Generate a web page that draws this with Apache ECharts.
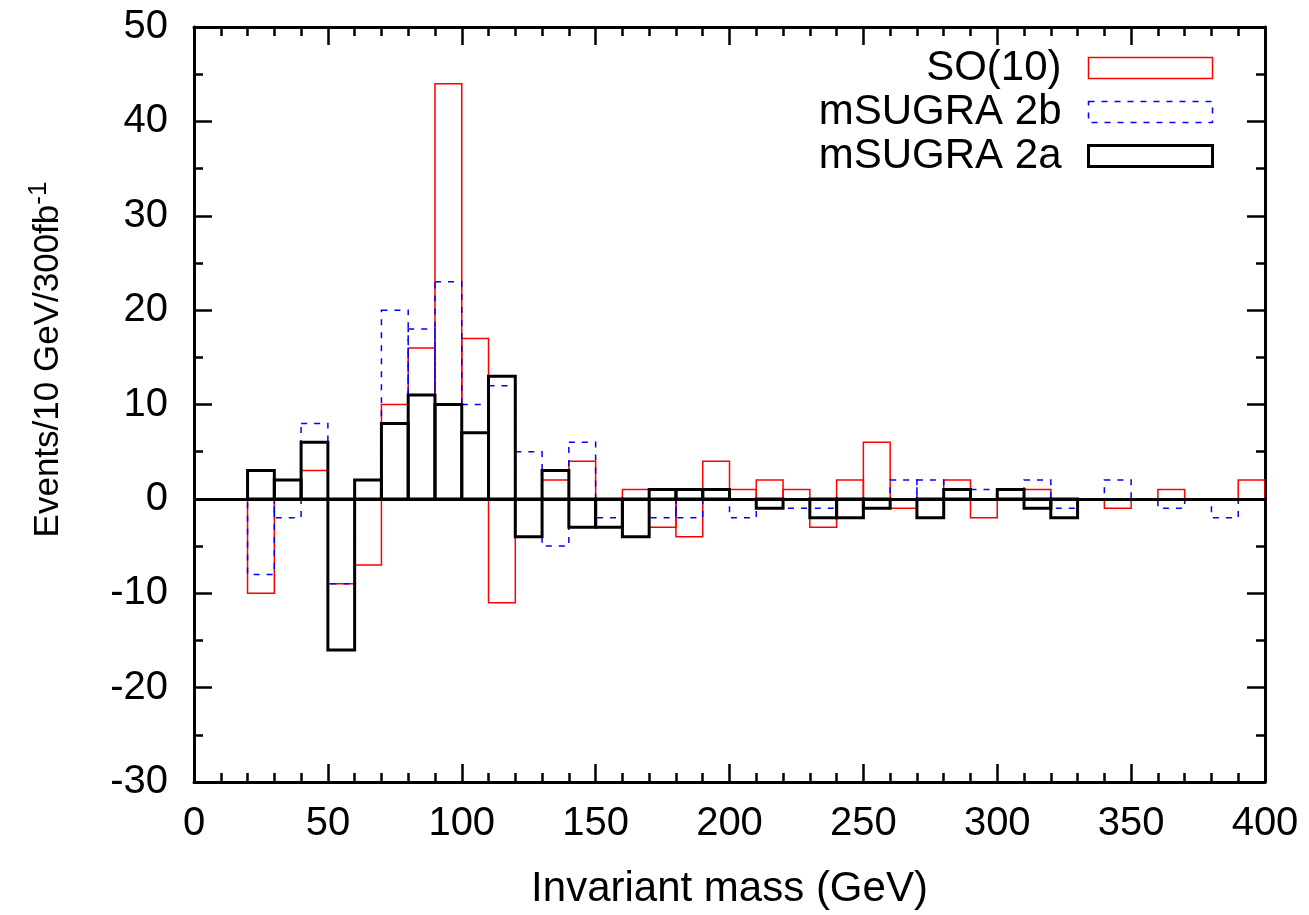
<!DOCTYPE html>
<html>
<head>
<meta charset="utf-8">
<script src="https://cdn.jsdelivr.net/npm/echarts@6/dist/echarts.min.js"></script>
<style>
html,body{margin:0;padding:0;background:#fff;}
#chart{width:1309px;height:915px;}
</style>
</head>
<body>
<div id="chart"></div>
<script>
// Lower edges of the 10 GeV bins
const binStart = [20,30,40,50,60,70,80,90,100,110,120,130,140,150,160,170,180,190,200,210,220,230,240,250,260,270,280,290,300,310,320,330,340,350,360,370,380,390];
const binWidth = 10;
// Events per bin
const so10     = [-10, 2, 3, -9, -7, 10, 16, 44, 17, -11, -4, 2, 4, -3, 1, -3, -4, 4, 1, 2, 1, -3, 2, 6, -1, 0, 2, -2, 0, 1, 0, 0, -1, 0, 1, 0, 0, 2];
const msugra2b = [-8, -2, 8, -9, 2, 20, 18, 23, 10, 12, 5, -5, 6, -2, -4, -2, -2, 1, -2, -1, -1, -1, -2, -1, 2, 2, 1, 1, 0, 2, -1, 0, 2, 0, -1, 0, -2, 0];
const msugra2a = [3, 2, 6, -16, 2, 8, 11, 10, 7, 13, -4, 3, -3, -3, -4, 1, 1, 1, 0, -1, 0, -2, -2, -1, 0, -2, 1, 0, 1, -1, -2, 0, 0, 0, 0, 0, 0, 0];
const seriesNames = ['SO(10)', 'mSUGRA 2b', 'mSUGRA 2a'];
const xTicks = {min: 0, max: 400, interval: 50};
const yTicks = {min: -30, max: 50, interval: 10};

const FONT = '"Liberation Sans", Arial, Helvetica, sans-serif';
const styles = [
  {stroke: '#ff0000', lineWidth: 1.5, lineDash: null},
  {stroke: '#0000ff', lineWidth: 1.5, lineDash: [6, 7]},
  {stroke: '#000000', lineWidth: 3, lineDash: null}
];

function makeData(vals) {
  return binStart.map((b, i) => [b, b + binWidth, vals[i]]);
}

function renderer(st) {
  return function (params, api) {
    const x0 = api.value(0), x1 = api.value(1), v = api.value(2);
    if (v === 0) return null;
    const p0 = api.coord([x0, 0]);
    const p1 = api.coord([x1, v]);
    return {
      type: 'rect',
      shape: {x: p0[0], y: Math.min(p0[1], p1[1]), width: p1[0] - p0[0], height: Math.abs(p1[1] - p0[1])},
      style: {fill: 'none', stroke: st.stroke, lineWidth: st.lineWidth, lineDash: st.lineDash}
    };
  };
}

const allVals = [so10, msugra2b, msugra2a];
const series = allVals.map((vals, k) => ({
  name: seriesNames[k],
  type: 'custom',
  renderItem: renderer(styles[k]),
  encode: {x: [0, 1], y: 2},
  data: makeData(vals),
  clip: true,
  z: 2 + k,
  itemStyle: {color: styles[k].stroke}
}));
// zero line
series.unshift({
  type: 'custom',
  renderItem: function () { return null; },
  data: [],
  silent: true,
  markLine: {
    silent: true,
    symbol: 'none',
    label: {show: false},
    lineStyle: {color: '#000', width: 3, type: 'solid'},
    data: [{yAxis: 0}]
  },
  z: 1
});

function xAxisCfg(pos, showLabels) {
  return {
    type: 'value', position: pos, min: xTicks.min, max: xTicks.max, interval: xTicks.interval,
    axisLine: {show: true, onZero: false, lineStyle: {color: '#000', width: 3}},
    axisTick: {show: true, inside: true, length: 18, lineStyle: {color: '#000', width: 2.5}},
    minorTick: {show: true, splitNumber: 5, length: 9, lineStyle: {color: '#000', width: 2.5}},
    splitLine: {show: false},
    axisLabel: {show: showLabels, fontFamily: FONT, fontSize: 40, color: '#000', margin: 22},
    name: showLabels ? 'Invariant mass (GeV)' : '',
    nameLocation: 'middle', nameGap: 86,
    nameTextStyle: {fontFamily: FONT, fontSize: 42, color: '#000'}
  };
}
function yAxisCfg(pos, showLabels) {
  return {
    type: 'value', position: pos, min: yTicks.min, max: yTicks.max, interval: yTicks.interval,
    axisLine: {show: true, onZero: false, lineStyle: {color: '#000', width: 3}},
    axisTick: {show: true, inside: true, length: 18, lineStyle: {color: '#000', width: 2.5}},
    minorTick: {show: true, splitNumber: 2, length: 9, lineStyle: {color: '#000', width: 2.5}},
    splitLine: {show: false},
    axisLabel: {show: showLabels, fontFamily: FONT, fontSize: 40, color: '#000', margin: 26},
    name: showLabels ? '{m|Events/10 GeV/300fb}{s|-1}' : '',
    nameLocation: 'middle', nameGap: 124,
    nameTextStyle: {
      fontFamily: FONT, color: '#000', padding: [0, 0, 0, 90],
      rich: {
        m: {fontFamily: FONT, fontSize: 35, color: '#000'},
        s: {fontFamily: FONT, fontSize: 26, color: '#000', padding: [0, 0, 18, 0]}
      }
    }
  };
}

const chart = echarts.init(document.getElementById('chart'), null, {renderer: 'canvas'});
chart.setOption({
  backgroundColor: '#fff',
  animation: false,
  grid: {left: 194, right: 44, top: 27, bottom: 132, containLabel: false},
  xAxis: [xAxisCfg('bottom', true), xAxisCfg('top', false)],
  yAxis: [yAxisCfg('left', true), yAxisCfg('right', false)],
  legend: {
    orient: 'vertical',
    right: 90, top: 42,
    align: 'right',
    itemWidth: 124, itemHeight: 21, itemGap: 2,
    icon: 'rect',
    textStyle: {fontFamily: FONT, fontSize: 42, color: '#000', width: 270, align: 'right', lineHeight: 21, padding: [0, 22, 0, 0]},
    data: seriesNames.map((n, k) => ({
      name: n, icon: 'rect',
      itemStyle: {color: 'rgba(0,0,0,0)', borderColor: styles[k].stroke, borderWidth: styles[k].lineWidth, borderType: styles[k].lineDash ? styles[k].lineDash : 'solid'}
    }))
  },
  series: series
});
</script>
</body>
</html>
